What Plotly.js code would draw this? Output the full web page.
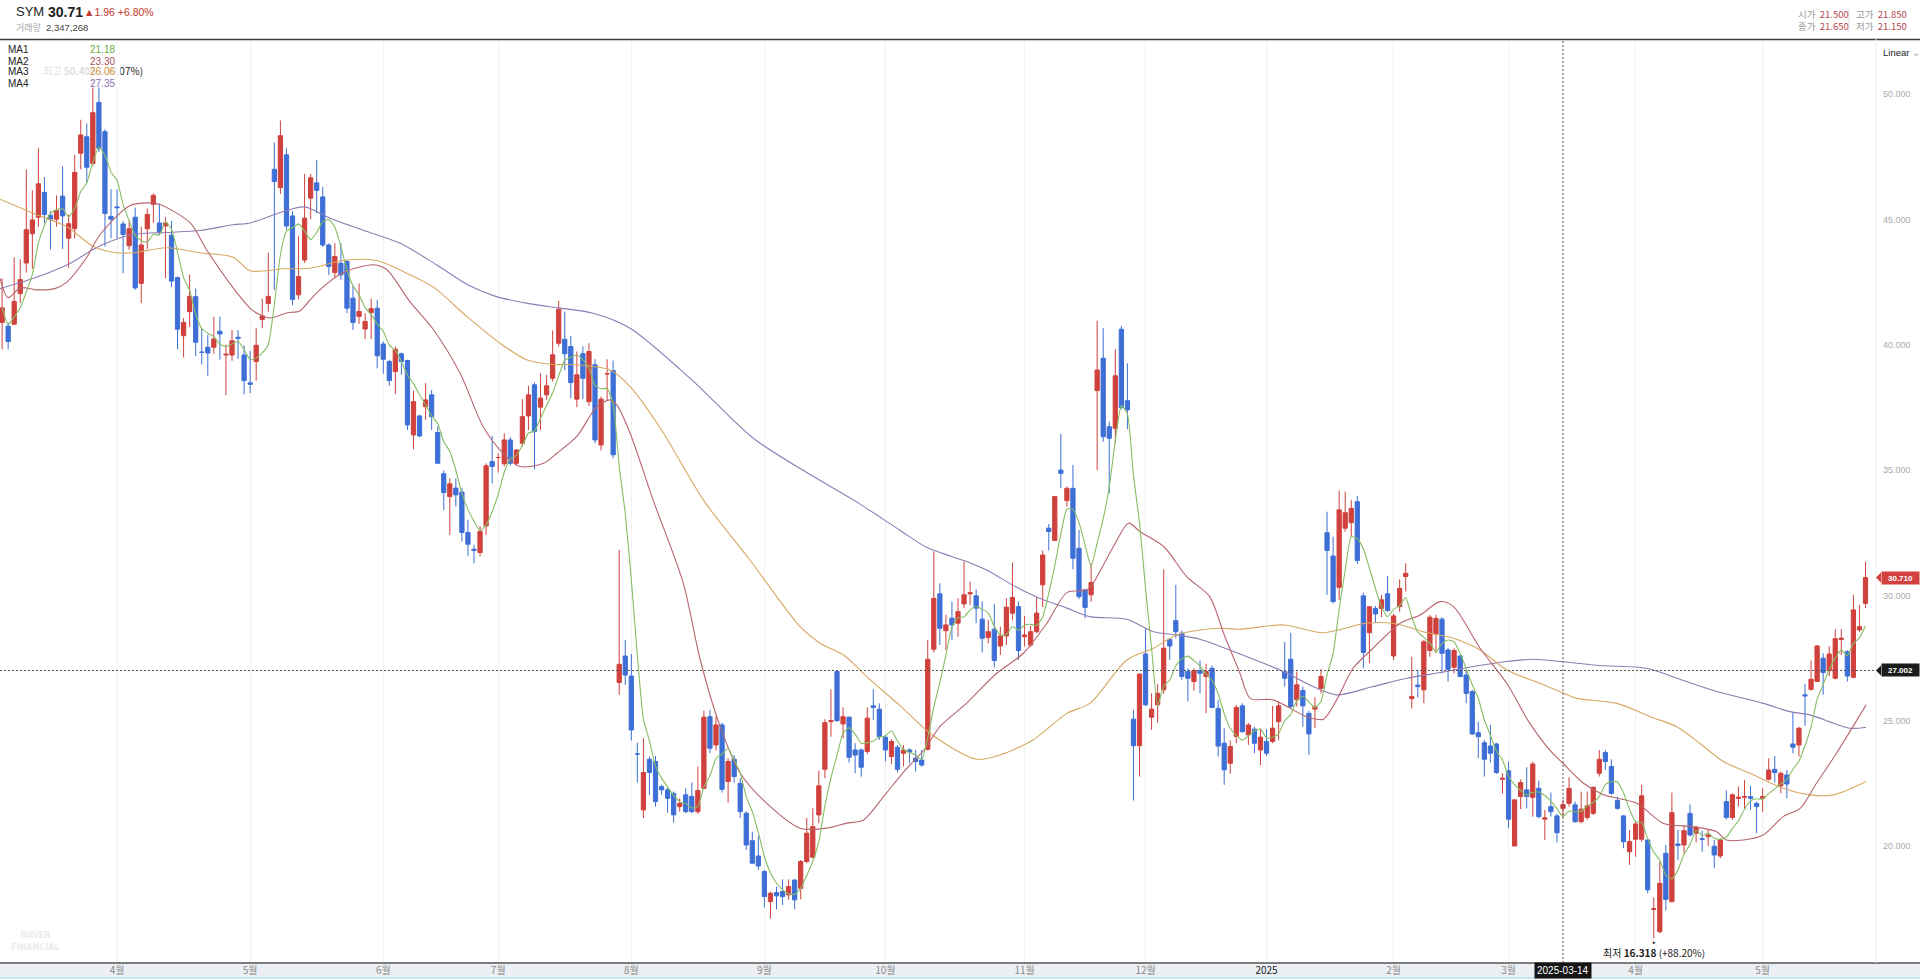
<!DOCTYPE html>
<html><head><meta charset="utf-8">
<script src="https://cdn.plot.ly/plotly-3.0.1.min.js"></script>
<style>html,body{margin:0;padding:0;background:#fff;overflow:hidden}#chart{width:1920px;height:979px}</style>
</head><body><div id="chart"></div>
<script>
// ---------------- DATA ----------------
const openP = [
40.89,40.74,40.82,42.04,43.26,44.43,45.09,46.08,45.17,45.01,
45.93,44.25,44.63,47.64,48.3,47.23,49.67,48.5,45.12,45.5,
44.82,43.95,45.09,42.45,44.63,45.6,44.86,44.74,44.37,42.68,
40.36,41.32,41.92,39.7,39.9,39.9,40.54,39.59,39.59,40.3,
39.59,38.48,39.33,41.01,41.65,47.0,46.27,47.58,45.14,41.99,
43.38,45.85,46.46,45.9,43.98,42.88,43.25,43.32,41.86,41.13,
40.63,41.28,41.46,40.03,39.33,38.93,39.64,39.37,36.4,37.16,
37.53,38.0,36.5,34.85,33.94,34.28,34.12,32.51,31.84,31.71,
32.77,35.34,35.5,35.25,36.2,35.27,36.07,37.16,38.4,37.51,
38.0,38.66,40.06,40.22,39.93,37.83,39.64,37.73,39.2,36.0,
38.84,38.97,26.52,27.58,26.78,23.67,21.44,23.46,23.37,22.37,
22.24,22.1,21.57,22.04,21.97,21.37,22.3,25.16,24.03,24.83,
22.57,23.46,22.5,21.31,20.21,19.6,18.98,17.78,18.14,18.18,
18.05,18.64,18.31,19.38,19.55,21.24,23.06,24.96,26.96,24.87,
25.14,23.83,23.83,23.77,25.59,25.46,24.34,23.57,23.94,23.7,
23.83,23.5,23.43,23.86,27.85,30.06,28.59,29.09,28.89,29.66,
30.06,29.98,29.05,28.32,28.65,27.98,28.38,29.29,29.55,28.35,
28.02,28.55,30.42,32.68,32.19,35.0,33.78,34.27,31.88,30.22,
30.02,38.17,39.46,36.73,36.67,40.62,37.77,25.06,24.0,27.66,
25.14,25.63,26.23,28.25,28.99,28.49,26.96,26.56,26.99,26.76,
27.09,25.49,24.1,23.3,24.37,25.59,24.43,24.66,23.83,24.17,
24.17,24.96,26.96,27.45,25.83,26.2,25.29,25.46,26.29,32.5,
31.57,30.32,32.68,32.9,33.74,29.98,28.51,29.48,29.48,30.06,
27.58,29.55,30.75,25.88,26.42,26.23,27.8,28.46,29.05,27.82,
27.13,27.58,26.82,26.16,24.52,24.12,23.99,24.07,22.66,23.0,
20.0,21.97,22.24,21.94,22.3,21.07,21.57,21.2,21.5,21.7,
21.64,20.97,21.14,21.3,22.9,23.73,23.17,21.81,21.2,19.77,
20.27,20.27,20.24,17.47,16.58,19.71,17.78,20.08,20.04,21.3,
20.51,20.29,20.37,19.99,19.6,21.77,21.14,21.9,21.94,21.97,
21.7,21.9,22.66,23.06,22.4,22.83,24.07,24.03,26.03,26.25,
26.56,27.49,26.99,26.69,28.24,27.75,26.73,28.62,29.68];
const highP = [
42.65,40.89,43.49,43.41,47.0,46.16,47.84,46.69,45.32,45.96,
47.12,45.2,47.58,48.98,48.83,50.405,50.3,48.6,46.21,46.2,
44.94,44.94,45.47,44.71,45.44,46.05,45.63,45.09,44.94,42.72,
41.07,42.8,42.24,40.66,40.4,41.12,41.12,40.01,40.59,40.59,
39.98,39.75,40.66,41.84,43.67,48.07,48.95,47.84,45.32,44.33,
46.82,46.82,47.38,46.3,44.05,44.05,44.05,43.39,42.35,42.45,
41.26,41.84,41.79,40.13,39.4,39.93,39.69,39.4,38.17,37.2,
38.47,38.2,36.74,34.98,34.67,34.67,34.28,33.01,32.02,32.77,
35.27,36.36,35.67,36.47,36.31,35.83,37.83,38.36,38.49,38.86,
38.8,40.57,41.76,41.32,40.35,39.73,39.93,40.06,39.42,37.93,
39.42,39.37,31.81,28.22,27.66,24.12,24.3,23.57,23.59,22.44,
22.31,22.17,21.9,22.3,22.53,23.17,25.4,25.43,25.16,24.92,
23.5,23.63,22.7,21.37,20.57,20.4,19.04,18.18,18.38,18.67,
18.67,18.67,19.44,21.11,21.5,23.01,25.06,26.25,26.96,25.53,
25.16,24.1,23.9,25.53,26.25,25.69,24.43,24.26,24.03,24.03,
23.9,23.83,23.83,28.22,31.75,30.48,29.22,29.75,29.88,31.35,
30.55,30.24,29.75,29.02,29.66,28.75,29.88,31.31,29.75,29.18,
28.78,29.92,31.79,32.85,33.94,36.44,34.34,35.2,32.61,30.22,
31.28,40.96,40.66,36.93,39.82,40.75,39.26,25.43,26.86,28.69,
26.09,26.47,31.04,28.29,30.42,28.59,27.09,27.09,27.4,27.27,
27.19,25.83,24.7,24.21,25.63,25.69,24.9,24.76,24.66,24.66,
25.59,25.76,28.15,28.51,26.96,26.36,25.4,25.93,27.05,33.34,
32.34,34.18,34.14,33.81,33.97,30.11,29.55,29.58,30.02,30.77,
29.26,30.64,31.28,27.55,27.02,28.22,29.22,29.22,29.13,27.89,
27.89,27.62,27.02,26.23,24.96,24.23,24.83,24.12,22.9,23.37,
21.84,22.66,23.14,23.37,22.61,21.44,22.13,21.28,21.85,22.74,
21.77,22.17,22.17,22.37,23.83,23.83,23.46,21.97,21.24,20.64,
20.97,22.44,20.24,17.95,19.38,20.04,22.13,20.64,20.8,21.66,
20.8,20.61,20.64,20.24,20.31,22.21,22.1,22.37,22.63,22.4,
21.77,22.3,23.5,23.59,22.97,23.03,25.32,24.76,26.47,27.4,
28.02,27.69,27.98,28.65,28.65,27.82,30.02,29.62,31.35];
const lowP = [
39.82,39.82,40.82,41.66,42.88,43.03,44.71,44.86,43.8,44.71,
43.82,43.06,44.25,47.0,46.47,47.15,47.69,43.92,44.25,44.25,
42.85,43.79,42.19,41.66,43.82,44.86,44.37,42.65,42.3,39.82,
39.49,40.71,39.55,39.21,38.75,39.64,39.4,37.99,39.36,39.44,
38.02,38.07,38.57,40.66,41.32,42.19,46.01,44.59,41.58,41.81,
43.26,45.01,45.24,43.9,42.79,42.69,42.59,41.26,40.59,40.83,
40.22,40.22,39.06,38.84,38.36,38.04,38.8,36.6,35.83,36.31,
37.0,36.6,35.27,33.41,32.41,33.54,32.15,31.58,31.28,31.55,
32.41,34.47,34.9,35.14,35.17,35.2,35.94,36.6,35.03,36.6,
37.8,38.53,39.93,38.99,37.87,37.51,37.83,37.56,36.07,35.78,
37.8,35.47,26.03,26.43,24.21,22.53,21.11,22.04,21.57,22.04,
21.33,20.93,21.37,21.31,21.31,21.28,22.26,23.7,23.81,22.13,
21.73,22.53,21.11,19.84,19.31,19.04,17.55,17.1,17.47,17.65,
17.85,17.47,17.87,19.31,19.51,20.9,22.7,24.36,24.96,24.3,
23.33,22.9,22.77,23.67,25.03,24.23,23.37,23.27,22.93,23.17,
23.3,22.97,23.17,23.81,27.72,28.02,27.82,28.22,28.35,29.49,
29.62,28.89,27.72,28.09,27.13,27.62,28.02,29.02,27.42,27.96,
27.93,28.49,29.53,31.79,32.19,34.27,33.54,31.04,29.85,29.09,
29.75,35.0,36.13,34.07,36.07,37.42,36.63,21.81,22.77,25.59,
24.63,24.92,26.07,27.42,28.29,26.63,25.76,26.2,26.09,25.3,
25.49,23.57,22.44,22.88,24.1,24.52,24.03,23.7,23.23,23.59,
24.1,24.23,26.36,25.49,25.56,24.76,23.63,24.7,26.09,30.02,
29.68,29.82,32.54,32.34,31.25,27.09,27.29,28.89,29.13,29.35,
27.42,29.35,30.15,25.49,25.93,25.69,27.55,27.69,26.89,26.56,
26.89,26.73,25.69,24.43,23.5,22.77,23.33,22.87,22.1,20.71,
20.0,21.47,21.5,21.17,21.1,20.24,21.17,20.14,21.15,21.57,
20.93,20.9,21.04,21.24,22.77,23.03,22.04,21.44,19.91,19.24,
19.57,20.17,18.11,16.318,16.52,17.42,17.74,19.44,19.71,20.37,
20.14,19.77,20.0,19.11,19.51,21.06,21.04,21.57,21.5,21.44,
20.51,21.37,22.61,22.53,22.1,21.9,23.7,23.57,24.79,26.2,
26.56,26.03,26.78,26.65,27.62,26.56,26.69,28.55,29.49];
const closeP = [
41.47,40.13,41.73,42.6,44.59,44.98,46.42,45.2,45.01,45.35,
45.14,44.83,46.88,48.37,47.08,49.26,47.84,45.24,45.01,45.47,
44.4,44.63,42.27,43.98,45.2,45.96,44.48,44.86,42.54,40.62,
40.89,41.93,40.1,39.7,39.67,40.23,40.43,39.62,40.16,40.25,
38.57,38.42,39.98,41.15,41.93,46.51,48.34,44.74,41.81,42.72,
45.05,46.66,46.16,43.98,43.12,43.52,42.79,41.46,40.89,41.33,
40.93,41.44,39.56,39.42,38.57,39.82,39.33,36.8,37.73,36.36,
37.8,37.13,35.27,34.1,34.45,34.01,32.51,32.04,31.79,32.55,
35.17,35.14,35.5,36.2,35.27,35.8,37.13,38.0,36.54,37.87,
38.36,39.6,41.42,39.64,38.49,38.8,38.66,39.73,36.2,37.83,
38.84,35.61,27.25,26.82,24.63,23.67,22.93,22.93,21.77,22.24,
21.9,21.24,21.7,21.37,21.37,22.21,25.14,23.9,24.83,22.26,
23.37,22.77,21.37,20.04,19.31,19.2,17.98,18.11,18.01,17.98,
18.38,17.85,19.38,20.51,20.77,22.4,24.92,25.0,25.0,25.16,
23.54,23.63,23.14,25.1,25.53,24.36,23.83,24.17,23.06,23.83,
23.75,23.37,23.23,27.45,29.88,28.69,28.82,28.82,29.35,30.02,
30.1,29.49,28.29,28.55,27.4,28.38,29.53,29.92,27.8,28.42,
28.55,29.29,31.61,32.55,33.94,34.87,34.27,31.48,29.95,29.52,
30.51,38.99,36.33,36.27,38.76,37.5,37.4,24.0,26.86,25.63,
25.46,26.09,27.89,27.98,28.55,26.76,26.69,27.0,26.89,26.96,
25.53,23.99,23.04,23.97,25.53,24.56,24.83,24.1,24.34,23.7,
24.7,25.59,26.69,25.56,26.43,25.59,24.47,25.56,26.76,31.79,
29.75,33.41,33.3,33.47,31.39,27.72,29.55,29.26,29.82,29.39,
29.18,30.28,30.88,25.96,26.36,28.15,29.13,29.08,27.69,27.05,
27.8,26.76,26.09,24.47,24.36,23.46,23.7,22.93,22.7,21.07,
21.84,22.53,21.97,23.27,21.17,21.12,21.37,20.53,21.65,22.3,
20.97,21.47,21.6,22.34,23.46,23.37,22.1,21.5,20.17,20.17,
20.88,22.0,18.25,17.5,18.51,17.87,21.33,20.02,20.61,20.44,
20.75,20.27,20.44,19.64,20.24,21.14,22.04,21.94,21.97,21.9,
21.57,21.97,23.03,22.93,22.9,22.47,23.94,24.7,25.99,26.65,
27.98,26.92,27.66,28.27,28.29,26.78,29.42,28.75,30.71];

// month tick labels (candle index of first session of month)
const monthTickIdx  = [20, 42, 64, 83, 105, 127, 147, 170, 190, 210, 231, 250, 271, 292];
const monthTickText = ['4월','5월','6월','7월','8월','9월','10월','11월','12월','2025','2월','3월','4월','5월'];
const priceTicks = [20, 25, 30, 35, 40, 45, 50];

// moving averages (candle index, value)
const ma2Idx = [0.65,2,4,6.7,9.7,11.7,15,17.2,22.1,25.4,27.1,32.1,34.8,39.2,42.5,45.3,48,50.2,51.9,53.5,57.4,62.4,64.6,68.4,72.3,76.7,80.5,83.8,86.6,90.5,92.7,96,99.3,101.5,102.6,104.8,108.6,113.6,116.4,119.7,123,127.4,132.9,137.3,140.6,143.4,146.7,150,153.6,156,160.4,165.4,169.8,173.7,177,180.3,181.4,184.7,187.2,189.1,193,196.8,200.6,202.9,205.6,207.3,211.1,216.6,219.4,221.6,224.3,227.6,232.1,235.4,238.7,240.9,245.3,249.7,253.5,256.9,259,262.4,265.7,271.2,275.6,280.5,284.4,286,288.8,292.1,295.4,298.2,300.9,304.2,309.1];
const ma2Val = [42.65,41.88,42.27,42.19,42.24,42.5,43.49,44.4,45.55,45.66,45.6,44.86,43.79,42.27,41.35,41.07,41.27,41.35,41.79,42.19,42.88,43.19,42.99,41.72,40.6,38.86,36.74,35.67,35.14,35.27,35.67,36.34,37.53,37.8,37.6,36.47,33.81,30.48,27.42,24.76,22.9,21.7,20.71,20.71,20.91,21.04,21.97,22.95,23.9,24.76,25.69,26.89,27.69,28.89,30.11,30.22,30.51,31.95,32.88,32.54,31.95,30.75,29.95,28.49,26.89,25.89,25.83,25.16,25.06,25.83,27.09,27.89,28.89,29.22,29.75,29.55,27.89,26.49,24.9,23.8,23.3,22.5,22.04,21.7,20.9,20.77,20.57,20.24,20.24,20.44,21.17,21.5,22.5,23.7,25.63];
const ma3Idx = [0.65,6.2,11.7,16.1,19.9,22.7,28.2,33.7,39.2,42,47.5,51.9,57.4,62.9,67.3,72.3,77.8,83.3,87.7,91.6,96,101.5,104.8,110,116.9,124.6,132.9,136.2,140.1,143.9,149.4,154.9,162.1,165.9,171.4,177,180.8,186.9,191.3,195.1,199,202.3,205.6,212.8,219.4,226.5,231.5,235.9,240.9,245.3,249.7,255.2,259,261.3,267.9,273.4,277.8,281.6,285.5,289.9,295.4,299.8,303.7,309.1];
const ma3Val = [45.81,45.24,44.71,43.92,43.67,43.67,43.87,43.67,43.49,42.95,43.03,43.05,43.36,43.36,42.92,42.3,41.13,40.06,39.4,39.22,39.2,38.99,38.33,36.6,33.81,31.41,28.75,28.09,27.62,26.76,25.6,24.4,23.46,23.63,24.23,25.29,25.69,27.42,27.89,28.42,28.62,28.69,28.65,28.82,28.51,28.89,28.86,28.55,28.29,27.82,27.02,26.49,26.1,25.89,25.69,25.16,24.76,24.1,23.37,22.9,22.3,22.04,22.04,22.57];
const ma4Idx = [0.65,6.2,11.7,17.2,22.7,28.2,33.7,39.2,42,47.5,51,55.2,61.3,66.8,72.8,78.3,82.7,87.7,93.2,98.7,104.8,115,125,134,141.7,149.4,153.8,160.4,163.7,168.7,172.5,177,180.8,186.9,191.3,195.1,199,205.6,212.8,217.7,221.6,227.6,233.2,238.7,244.2,249.7,254.1,259,265.1,272.8,278.9,284.4,292.1,296.5,299.8,306.4,309.1];
const ma4Val = [42.24,42.65,43.18,43.95,44.4,44.48,44.56,44.79,44.86,45.32,45.5,45.05,44.52,44.05,43.19,42.35,41.92,41.66,41.46,41.26,40.66,38.6,36.3,34.9,33.81,32.6,31.92,31.35,31.01,30.32,29.88,29.49,29.15,29.05,28.55,28.42,28.25,27.66,26.96,26.36,26.03,26.36,26.69,26.92,27.16,27.36,27.45,27.35,27.2,27.09,26.6,26.16,25.69,25.36,25.23,24.7,24.74];
const maLegendNames = ['MA1','MA2','MA3','MA4'];
const maLegendVals  = ['21.18','23.30','26.06','27.35'];

const crossIdx = 259;
const crossDate = '2025-03-14';
const crossY = 27.002;

// ---------------- STYLE / LAYOUT ----------------
const W = 1920, H = 979, ML = 0, MR = 44, MT = 39, MB = 16;
const PW = W - ML - MR, PH = H - MT - MB;
const px = x => (x - ML) / PW;
const py = y => (H - MB - y) / PH;
const STEP = 6.05, FIRSTX = 2.1;
const xStart = 1 - FIRSTX / STEP, xEnd = 1 + (PW - FIRSTX) / STEP;

const FONT = "'Liberation Sans', Arial, 'Noto Sans CJK KR', sans-serif";
const KFONT = "'Noto Sans CJK KR', 'Liberation Sans', sans-serif";
const UP = '#d0403c', DOWN = '#3d6fd6';
const C_MA = ['#86bd62', '#b8646c', '#d6a862', '#8e7cb4'];
const C_MAT = ['#6aaa40', '#b0505a', '#d4943c', '#8a70b8'];

const idx = closeP.map((_, i) => i + 1);
const ma1 = closeP.map((_, i) => {
  const s = closeP.slice(Math.max(0, i - 4), i + 1);
  return s.reduce((a, b) => a + b, 0) / s.length;
});

const lastClose = closeP[closeP.length - 1];
let maxI = 0, minI = 0;
highP.forEach((v, i) => { if (v > highP[maxI]) maxI = i; });
lowP.forEach((v, i) => { if (v < lowP[minI]) minI = i; });
const maxHigh = highP[maxI], minLow = lowP[minI];
const pctStr = v => (v >= 0 ? '+' : '-') + Math.abs(v * 100).toFixed(2) + '%';

const traces = [
  {type: 'candlestick', x: idx, open: openP, high: highP, low: lowP, close: closeP,
   increasing: {line: {color: UP, width: 1}, fillcolor: UP},
   decreasing: {line: {color: DOWN, width: 1}, fillcolor: DOWN},
   whiskerwidth: 0, hoverinfo: 'skip', showlegend: false},
  {type: 'scatter', mode: 'lines', x: ma4Idx, y: ma4Val, line: {color: C_MA[3], width: 1.1, shape: 'spline', smoothing: 0.8}, hoverinfo: 'skip', showlegend: false},
  {type: 'scatter', mode: 'lines', x: ma3Idx, y: ma3Val, line: {color: C_MA[2], width: 1.1, shape: 'spline', smoothing: 0.8}, hoverinfo: 'skip', showlegend: false},
  {type: 'scatter', mode: 'lines', x: ma2Idx, y: ma2Val, line: {color: C_MA[1], width: 1.1, shape: 'spline', smoothing: 0.8}, hoverinfo: 'skip', showlegend: false},
  {type: 'scatter', mode: 'lines', x: idx, y: ma1, line: {color: C_MA[0], width: 1.1, shape: 'spline', smoothing: 0.5}, hoverinfo: 'skip', showlegend: false}
];

const ann = [];
const A = (o) => ann.push(Object.assign({showarrow: false, xref: 'paper', yref: 'paper', xanchor: 'left', yanchor: 'middle'}, o));

// header
A({x: px(14), y: py(12), text: 'SYM', font: {family: FONT, size: 13, color: '#222'}});
A({x: px(46), y: py(12), text: '<b>30.71</b>', font: {family: FONT, size: 14, color: '#222'}});
A({x: px(82), y: py(12), text: '▲1.96 +6.80%', font: {family: FONT, size: 10.5, color: '#c0392b'}});
A({x: px(14), y: py(27), text: '거래량', font: {family: KFONT, size: 9, color: '#aaa'}});
A({x: px(44), y: py(27), text: '2,347,268', font: {family: FONT, size: 9.5, color: '#444'}});

const oc = crossIdx - 1;
const VR = 'color:#b5474f';
A({x: px(1796), y: py(14), text: `시가  <span style="${VR}">${openP[oc].toFixed(3)}</span>`, font: {family: KFONT, size: 9.5, color: '#999'}});
A({x: px(1854), y: py(14), text: `고가  <span style="${VR}">${highP[oc].toFixed(3)}</span>`, font: {family: KFONT, size: 9.5, color: '#999'}});
A({x: px(1796), y: py(26), text: `종가  <span style="${VR}">${closeP[oc].toFixed(3)}</span>`, font: {family: KFONT, size: 9.5, color: '#999'}});
A({x: px(1854), y: py(26), text: `저가  <span style="${VR}">${lowP[oc].toFixed(3)}</span>`, font: {family: KFONT, size: 9.5, color: '#999'}});
A({x: px(1881), y: py(53), text: 'Linear <span style="color:#aaa">⌄</span>', font: {family: FONT, size: 9.5, color: '#222'}});

// high / low markers
ann.push({x: maxI + 1, y: maxHigh, xref: 'x', yref: 'y', yshift: 13, showarrow: false,
  text: `최고 <b>${maxHigh.toFixed(3)}</b> (${pctStr(lastClose / maxHigh - 1)})`, font: {family: KFONT, size: 10, color: '#222'}});
ann.push({x: maxI + 1, y: maxHigh, xref: 'x', yref: 'y', yshift: 4, showarrow: false, text: '●', font: {size: 5, color: '#111'}});
ann.push({x: minI + 1, y: minLow, xref: 'x', yref: 'y', yshift: -14, showarrow: false,
  text: `최저 <b>${minLow.toFixed(3)}</b> (${pctStr(lastClose / minLow - 1)})`, font: {family: KFONT, size: 10, color: '#222'}});
ann.push({x: minI + 1, y: minLow, xref: 'x', yref: 'y', yshift: -4, showarrow: false, text: '●', font: {size: 5, color: '#111'}});

// MA legend panel
A({x: px(0), y: py(43), yanchor: 'top', text: ' ', width: 119, height: 43, bgcolor: 'rgba(255,255,255,0.85)', borderpad: 0});
maLegendNames.forEach((n, i) => {
  A({x: px(6), y: py(50 + i * 11), text: n, font: {family: FONT, size: 10, color: '#222'}});
  A({x: px(117), y: py(50 + i * 11), xanchor: 'right', text: maLegendVals[i], font: {family: FONT, size: 10, color: C_MAT[i]}});
});

// price tags on the right
A({x: px(1881), y: lastClose, yref: 'y', text: '<b>' + lastClose.toFixed(3) + '</b>', bgcolor: '#d2413f', font: {family: FONT, size: 8, color: '#fff'}, borderpad: 1.5, width: 34});
A({x: px(1881), y: crossY, yref: 'y', text: '<b>' + crossY.toFixed(3) + '</b>', bgcolor: '#1b1b1b', font: {family: FONT, size: 8, color: '#fff'}, borderpad: 1.5, width: 34});
// date tag at bottom
ann.push({x: crossIdx, y: py(970), xref: 'x', yref: 'paper', yanchor: 'middle', showarrow: false,
  text: crossDate, bgcolor: '#161616', font: {family: FONT, size: 10, color: '#fff'}, borderpad: 2});
// watermark
A({x: px(9), y: py(941), text: '<b>NAVER<br>FINANCIAL</b>', font: {family: "'DejaVu Sans Condensed', 'Roboto', sans-serif", size: 9, color: '#ececec'}});

const dy = 0.2;
const shapes = [
  {type: 'rect', xref: 'paper', yref: 'paper', x0: 0, x1: W / PW, y0: py(963), y1: py(977), fillcolor: '#eceff3', line: {width: 0}, layer: 'below'},
  {type: 'rect', xref: 'paper', yref: 'paper', x0: 0, x1: W / PW, y0: py(977), y1: py(979.5), fillcolor: '#c3e6ea', line: {width: 0}, layer: 'below'},
  {type: 'line', xref: 'paper', yref: 'paper', x0: 0, x1: W / PW, y0: py(963), y1: py(963), line: {color: '#555', width: 1.5}},
  {type: 'line', xref: 'paper', yref: 'paper', x0: 0, x1: W / PW, y0: py(39.5), y1: py(39.5), line: {color: '#3c3c3c', width: 1.3}},
  {type: 'line', xref: 'paper', yref: 'paper', x0: 1, x1: 1, y0: 0, y1: 1, line: {color: '#ededed', width: 1}},
  {type: 'line', xref: 'paper', yref: 'paper', x0: px(1849), x1: px(1849), y0: py(8), y1: py(32), line: {color: '#e4e4e4', width: 1}},
  {type: 'line', xref: 'x', yref: 'paper', x0: crossIdx, x1: crossIdx, y0: 0, y1: 1, line: {color: '#555', width: 1, dash: '2px,2px'}},
  {type: 'line', xref: 'paper', yref: 'y', x0: 0, x1: 1, y0: crossY, y1: crossY, line: {color: '#555', width: 1, dash: '2px,2px'}},
  {type: 'path', xref: 'paper', yref: 'y', path: `M ${px(1876)},${lastClose} L ${px(1881)},${lastClose + dy} L ${px(1881)},${lastClose - dy} Z`, fillcolor: '#d2413f', line: {width: 0}},
  {type: 'path', xref: 'paper', yref: 'y', path: `M ${px(1876)},${crossY} L ${px(1881)},${crossY + dy} L ${px(1881)},${crossY - dy} Z`, fillcolor: '#1b1b1b', line: {width: 0}}
];

const layout = {
  width: W, height: H, autosize: false,
  margin: {l: ML, r: MR, t: MT, b: MB, pad: 0},
  paper_bgcolor: '#fff', plot_bgcolor: '#fff',
  showlegend: false, boxgap: 0.3, boxgroupgap: 0,
  xaxis: {range: [xStart, xEnd], tickmode: 'array', tickvals: monthTickIdx,
    ticktext: monthTickText.map(t => t === '2025' ? '<span style="color:#222">2025</span>' : t),
    showgrid: true, gridcolor: '#f1f1f1', gridwidth: 1, zeroline: false, showline: false, ticks: '',
    tickfont: {family: KFONT, size: 10, color: '#888'}, rangeslider: {visible: false}, fixedrange: true},
  yaxis: {side: 'right', range: [15.33, 52.2], tickmode: 'array', tickvals: priceTicks, tickformat: '.3f',
    showgrid: false, zeroline: false, showline: false, ticks: '', ticklabelstandoff: 6,
    tickfont: {family: FONT, size: 9, color: '#aaa'}, fixedrange: true},
  annotations: ann,
  shapes: shapes
};

Plotly.newPlot('chart', traces, layout, {staticPlot: true, displayModeBar: false});
</script>
</body></html>
